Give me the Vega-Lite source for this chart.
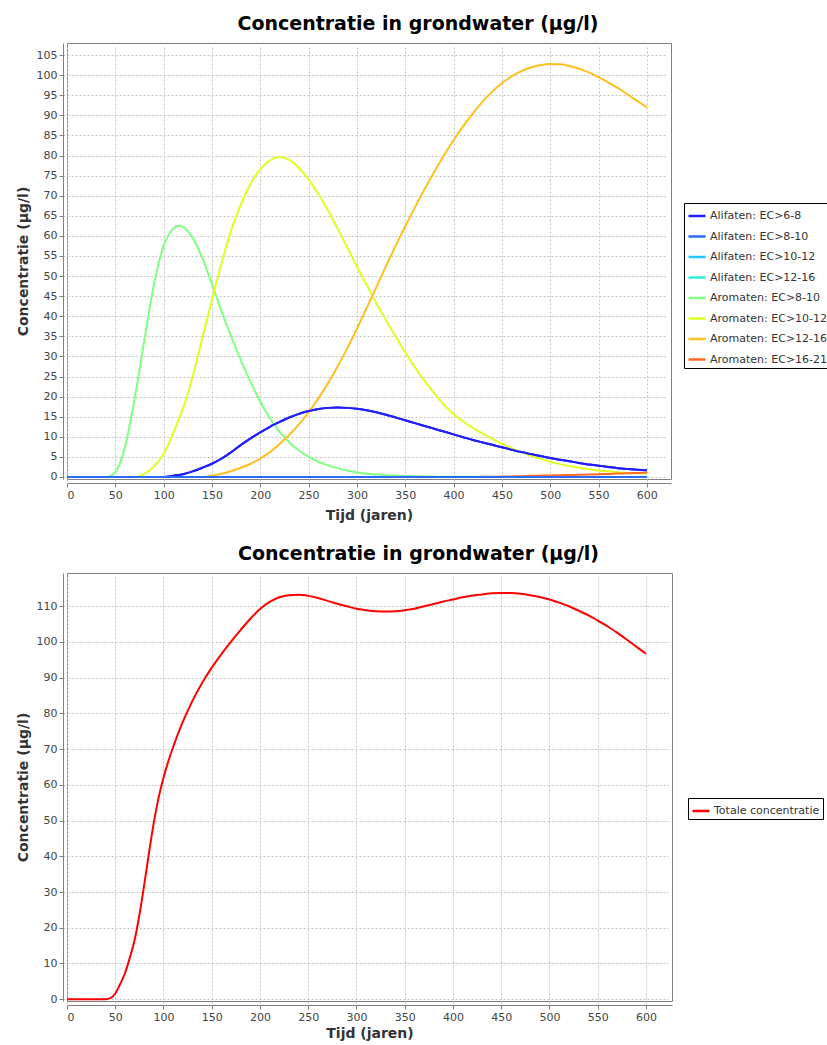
{
  "$schema": "https://vega.github.io/schema/vega-lite/v6.json",
  "background": "white",
  "padding": {"left": 15, "top": 14, "right": 0, "bottom": 0},
  "spacing": 21,
  "config": {
    "font": "DejaVu Sans",
    "view": {"stroke": "#808080", "strokeWidth": 1},
    "axis": {
      "labelFont": "DejaVu Sans", "labelFontSize": 11, "labelColor": "#444444",
      "titleFont": "DejaVu Sans", "titleFontSize": 14, "titleFontWeight": "bold", "titleColor": "#333333",
      "domainColor": "#808080", "tickColor": "#808080", "gridColor": "#c4c4c4", "gridDash": [2, 2],
      "offset": 4, "tickSize": 4, "labelPadding": 2
    },
    "axisY": {"titlePadding": 6},
    "axisX": {"titlePadding": 8},
    "title": {"font": "DejaVu Sans", "fontSize": 19, "fontWeight": "bold", "color": "#000000", "anchor": "middle", "offset": 9, "dx": 49},
    "legend": {
      "strokeColor": "#000000", "padding": 3, "fillColor": "white",
      "symbolType": "stroke", "symbolStrokeWidth": 2.5, "symbolSize": 290,
      "labelFont": "DejaVu Sans", "labelFontSize": 11, "labelColor": "#333333", "labelOffset": 3,
      "rowPadding": 5.5
    }
  },
  "resolve": {"scale": {"color": "independent", "x": "independent", "y": "independent"}, "legend": {"color": "independent"}},
  "vconcat": [
    {
      "title": "Concentratie in grondwater (µg/l)",
      "width": 604,
      "height": 436,
      "data": {"values": [
        {"t": 0, "Alifaten: EC>6-8": 0, "Alifaten: EC>8-10": 0, "Alifaten: EC>10-12": 0, "Alifaten: EC>12-16": 0, "Aromaten: EC>8-10": 0, "Aromaten: EC>10-12": 0, "Aromaten: EC>12-16": 0, "Aromaten: EC>16-21": 0},
        {"t": 10, "Alifaten: EC>6-8": 0, "Alifaten: EC>8-10": 0, "Alifaten: EC>10-12": 0, "Alifaten: EC>12-16": 0, "Aromaten: EC>8-10": 0, "Aromaten: EC>10-12": 0, "Aromaten: EC>12-16": 0, "Aromaten: EC>16-21": 0},
        {"t": 20, "Alifaten: EC>6-8": 0, "Alifaten: EC>8-10": 0, "Alifaten: EC>10-12": 0, "Alifaten: EC>12-16": 0, "Aromaten: EC>8-10": 0, "Aromaten: EC>10-12": 0, "Aromaten: EC>12-16": 0, "Aromaten: EC>16-21": 0},
        {"t": 30, "Alifaten: EC>6-8": 0, "Alifaten: EC>8-10": 0, "Alifaten: EC>10-12": 0, "Alifaten: EC>12-16": 0, "Aromaten: EC>8-10": 0, "Aromaten: EC>10-12": 0, "Aromaten: EC>12-16": 0, "Aromaten: EC>16-21": 0},
        {"t": 40, "Alifaten: EC>6-8": 0, "Alifaten: EC>8-10": 0, "Alifaten: EC>10-12": 0, "Alifaten: EC>12-16": 0, "Aromaten: EC>8-10": 0, "Aromaten: EC>10-12": 0, "Aromaten: EC>12-16": 0, "Aromaten: EC>16-21": 0},
        {"t": 50, "Alifaten: EC>6-8": 0, "Alifaten: EC>8-10": 0, "Alifaten: EC>10-12": 0, "Alifaten: EC>12-16": 0, "Aromaten: EC>8-10": 1.2, "Aromaten: EC>10-12": 0, "Aromaten: EC>12-16": 0, "Aromaten: EC>16-21": 0},
        {"t": 60, "Alifaten: EC>6-8": 0, "Alifaten: EC>8-10": 0, "Alifaten: EC>10-12": 0, "Alifaten: EC>12-16": 0, "Aromaten: EC>8-10": 7.5, "Aromaten: EC>10-12": 0, "Aromaten: EC>12-16": 0, "Aromaten: EC>16-21": 0},
        {"t": 70, "Alifaten: EC>6-8": 0, "Alifaten: EC>8-10": 0, "Alifaten: EC>10-12": 0, "Alifaten: EC>12-16": 0, "Aromaten: EC>8-10": 19.5, "Aromaten: EC>10-12": 0, "Aromaten: EC>12-16": 0, "Aromaten: EC>16-21": 0},
        {"t": 80, "Alifaten: EC>6-8": 0, "Alifaten: EC>8-10": 0, "Alifaten: EC>10-12": 0, "Alifaten: EC>12-16": 0, "Aromaten: EC>8-10": 34, "Aromaten: EC>10-12": 0.8, "Aromaten: EC>12-16": 0, "Aromaten: EC>16-21": 0},
        {"t": 90, "Alifaten: EC>6-8": 0, "Alifaten: EC>8-10": 0, "Alifaten: EC>10-12": 0, "Alifaten: EC>12-16": 0, "Aromaten: EC>8-10": 48, "Aromaten: EC>10-12": 2.6, "Aromaten: EC>12-16": 0, "Aromaten: EC>16-21": 0},
        {"t": 100, "Alifaten: EC>6-8": 0, "Alifaten: EC>8-10": 0, "Alifaten: EC>10-12": 0, "Alifaten: EC>12-16": 0, "Aromaten: EC>8-10": 57.5, "Aromaten: EC>10-12": 5.8, "Aromaten: EC>12-16": 0, "Aromaten: EC>16-21": 0},
        {"t": 110, "Alifaten: EC>6-8": 0.3, "Alifaten: EC>8-10": 0, "Alifaten: EC>10-12": 0, "Alifaten: EC>12-16": 0, "Aromaten: EC>8-10": 61.8, "Aromaten: EC>10-12": 11, "Aromaten: EC>12-16": 0, "Aromaten: EC>16-21": 0},
        {"t": 115, "Alifaten: EC>6-8": 0.5, "Alifaten: EC>8-10": 0, "Alifaten: EC>10-12": 0, "Alifaten: EC>12-16": 0, "Aromaten: EC>8-10": 62.5, "Aromaten: EC>10-12": 14, "Aromaten: EC>12-16": 0, "Aromaten: EC>16-21": 0},
        {"t": 120, "Alifaten: EC>6-8": 0.7, "Alifaten: EC>8-10": 0, "Alifaten: EC>10-12": 0, "Alifaten: EC>12-16": 0, "Aromaten: EC>8-10": 62.2, "Aromaten: EC>10-12": 17, "Aromaten: EC>12-16": 0, "Aromaten: EC>16-21": 0},
        {"t": 130, "Alifaten: EC>6-8": 1.4, "Alifaten: EC>8-10": 0, "Alifaten: EC>10-12": 0, "Alifaten: EC>12-16": 0, "Aromaten: EC>8-10": 59.5, "Aromaten: EC>10-12": 25, "Aromaten: EC>12-16": 0, "Aromaten: EC>16-21": 0},
        {"t": 140, "Alifaten: EC>6-8": 2.3, "Alifaten: EC>8-10": 0, "Alifaten: EC>10-12": 0, "Alifaten: EC>12-16": 0, "Aromaten: EC>8-10": 54.5, "Aromaten: EC>10-12": 34.5, "Aromaten: EC>12-16": 0, "Aromaten: EC>16-21": 0},
        {"t": 150, "Alifaten: EC>6-8": 3.3, "Alifaten: EC>8-10": 0, "Alifaten: EC>10-12": 0, "Alifaten: EC>12-16": 0, "Aromaten: EC>8-10": 48, "Aromaten: EC>10-12": 44, "Aromaten: EC>12-16": 0.3, "Aromaten: EC>16-21": 0},
        {"t": 160, "Alifaten: EC>6-8": 4.6, "Alifaten: EC>8-10": 0, "Alifaten: EC>10-12": 0, "Alifaten: EC>12-16": 0, "Aromaten: EC>8-10": 41.2, "Aromaten: EC>10-12": 53.3, "Aromaten: EC>12-16": 0.8, "Aromaten: EC>16-21": 0},
        {"t": 170, "Alifaten: EC>6-8": 6.2, "Alifaten: EC>8-10": 0, "Alifaten: EC>10-12": 0, "Alifaten: EC>12-16": 0, "Aromaten: EC>8-10": 34.9, "Aromaten: EC>10-12": 61.5, "Aromaten: EC>12-16": 1.5, "Aromaten: EC>16-21": 0},
        {"t": 180, "Alifaten: EC>6-8": 8, "Alifaten: EC>8-10": 0, "Alifaten: EC>10-12": 0, "Alifaten: EC>12-16": 0, "Aromaten: EC>8-10": 29, "Aromaten: EC>10-12": 67.9, "Aromaten: EC>12-16": 2.3, "Aromaten: EC>16-21": 0},
        {"t": 190, "Alifaten: EC>6-8": 9.6, "Alifaten: EC>8-10": 0, "Alifaten: EC>10-12": 0, "Alifaten: EC>12-16": 0, "Aromaten: EC>8-10": 23.6, "Aromaten: EC>10-12": 73, "Aromaten: EC>12-16": 3.3, "Aromaten: EC>16-21": 0},
        {"t": 200, "Alifaten: EC>6-8": 11.1, "Alifaten: EC>8-10": 0, "Alifaten: EC>10-12": 0, "Alifaten: EC>12-16": 0, "Aromaten: EC>8-10": 18.8, "Aromaten: EC>10-12": 76.6, "Aromaten: EC>12-16": 4.6, "Aromaten: EC>16-21": 0},
        {"t": 210, "Alifaten: EC>6-8": 12.5, "Alifaten: EC>8-10": 0, "Alifaten: EC>10-12": 0, "Alifaten: EC>12-16": 0, "Aromaten: EC>8-10": 14.6, "Aromaten: EC>10-12": 78.8, "Aromaten: EC>12-16": 6.2, "Aromaten: EC>16-21": 0},
        {"t": 220, "Alifaten: EC>6-8": 13.7, "Alifaten: EC>8-10": 0, "Alifaten: EC>10-12": 0, "Alifaten: EC>12-16": 0, "Aromaten: EC>8-10": 11.2, "Aromaten: EC>10-12": 79.6, "Aromaten: EC>12-16": 8.2, "Aromaten: EC>16-21": 0},
        {"t": 230, "Alifaten: EC>6-8": 14.8, "Alifaten: EC>8-10": 0, "Alifaten: EC>10-12": 0, "Alifaten: EC>12-16": 0, "Aromaten: EC>8-10": 8.6, "Aromaten: EC>10-12": 78.9, "Aromaten: EC>12-16": 10.5, "Aromaten: EC>16-21": 0},
        {"t": 240, "Alifaten: EC>6-8": 15.7, "Alifaten: EC>8-10": 0, "Alifaten: EC>10-12": 0, "Alifaten: EC>12-16": 0, "Aromaten: EC>8-10": 6.6, "Aromaten: EC>10-12": 76.9, "Aromaten: EC>12-16": 13.1, "Aromaten: EC>16-21": 0},
        {"t": 250, "Alifaten: EC>6-8": 16.4, "Alifaten: EC>8-10": 0, "Alifaten: EC>10-12": 0, "Alifaten: EC>12-16": 0, "Aromaten: EC>8-10": 5, "Aromaten: EC>10-12": 74, "Aromaten: EC>12-16": 16.1, "Aromaten: EC>16-21": 0},
        {"t": 260, "Alifaten: EC>6-8": 16.9, "Alifaten: EC>8-10": 0, "Alifaten: EC>10-12": 0, "Alifaten: EC>12-16": 0, "Aromaten: EC>8-10": 3.8, "Aromaten: EC>10-12": 70.4, "Aromaten: EC>12-16": 19.5, "Aromaten: EC>16-21": 0},
        {"t": 270, "Alifaten: EC>6-8": 17.2, "Alifaten: EC>8-10": 0, "Alifaten: EC>10-12": 0, "Alifaten: EC>12-16": 0, "Aromaten: EC>8-10": 2.9, "Aromaten: EC>10-12": 66.3, "Aromaten: EC>12-16": 23.3, "Aromaten: EC>16-21": 0},
        {"t": 280, "Alifaten: EC>6-8": 17.3, "Alifaten: EC>8-10": 0, "Alifaten: EC>10-12": 0, "Alifaten: EC>12-16": 0, "Aromaten: EC>8-10": 2.2, "Aromaten: EC>10-12": 61.8, "Aromaten: EC>12-16": 27.5, "Aromaten: EC>16-21": 0},
        {"t": 290, "Alifaten: EC>6-8": 17.2, "Alifaten: EC>8-10": 0, "Alifaten: EC>10-12": 0, "Alifaten: EC>12-16": 0, "Aromaten: EC>8-10": 1.6, "Aromaten: EC>10-12": 57.1, "Aromaten: EC>12-16": 32, "Aromaten: EC>16-21": 0},
        {"t": 300, "Alifaten: EC>6-8": 17, "Alifaten: EC>8-10": 0, "Alifaten: EC>10-12": 0, "Alifaten: EC>12-16": 0, "Aromaten: EC>8-10": 1.1, "Aromaten: EC>10-12": 52.4, "Aromaten: EC>12-16": 36.9, "Aromaten: EC>16-21": 0},
        {"t": 310, "Alifaten: EC>6-8": 16.6, "Alifaten: EC>8-10": 0, "Alifaten: EC>10-12": 0, "Alifaten: EC>12-16": 0, "Aromaten: EC>8-10": 0.8, "Aromaten: EC>10-12": 47.8, "Aromaten: EC>12-16": 42, "Aromaten: EC>16-21": 0},
        {"t": 320, "Alifaten: EC>6-8": 16.1, "Alifaten: EC>8-10": 0, "Alifaten: EC>10-12": 0, "Alifaten: EC>12-16": 0, "Aromaten: EC>8-10": 0.6, "Aromaten: EC>10-12": 43.3, "Aromaten: EC>12-16": 47.2, "Aromaten: EC>16-21": 0},
        {"t": 330, "Alifaten: EC>6-8": 15.5, "Alifaten: EC>8-10": 0, "Alifaten: EC>10-12": 0, "Alifaten: EC>12-16": 0, "Aromaten: EC>8-10": 0.45, "Aromaten: EC>10-12": 39, "Aromaten: EC>12-16": 52.4, "Aromaten: EC>16-21": 0},
        {"t": 340, "Alifaten: EC>6-8": 14.8, "Alifaten: EC>8-10": 0, "Alifaten: EC>10-12": 0, "Alifaten: EC>12-16": 0, "Aromaten: EC>8-10": 0.35, "Aromaten: EC>10-12": 34.9, "Aromaten: EC>12-16": 57.5, "Aromaten: EC>16-21": 0},
        {"t": 350, "Alifaten: EC>6-8": 14.1, "Alifaten: EC>8-10": 0, "Alifaten: EC>10-12": 0, "Alifaten: EC>12-16": 0, "Aromaten: EC>8-10": 0.27, "Aromaten: EC>10-12": 31, "Aromaten: EC>12-16": 62.4, "Aromaten: EC>16-21": 0},
        {"t": 360, "Alifaten: EC>6-8": 13.4, "Alifaten: EC>8-10": 0, "Alifaten: EC>10-12": 0, "Alifaten: EC>12-16": 0, "Aromaten: EC>8-10": 0.2, "Aromaten: EC>10-12": 27.3, "Aromaten: EC>12-16": 67.1, "Aromaten: EC>16-21": 0},
        {"t": 370, "Alifaten: EC>6-8": 12.7, "Alifaten: EC>8-10": 0, "Alifaten: EC>10-12": 0, "Alifaten: EC>12-16": 0, "Aromaten: EC>8-10": 0.15, "Aromaten: EC>10-12": 23.9, "Aromaten: EC>12-16": 71.6, "Aromaten: EC>16-21": 0},
        {"t": 380, "Alifaten: EC>6-8": 12, "Alifaten: EC>8-10": 0, "Alifaten: EC>10-12": 0, "Alifaten: EC>12-16": 0, "Aromaten: EC>8-10": 0.1, "Aromaten: EC>10-12": 20.8, "Aromaten: EC>12-16": 75.9, "Aromaten: EC>16-21": 0},
        {"t": 390, "Alifaten: EC>6-8": 11.3, "Alifaten: EC>8-10": 0, "Alifaten: EC>10-12": 0, "Alifaten: EC>12-16": 0, "Aromaten: EC>8-10": 0.08, "Aromaten: EC>10-12": 18, "Aromaten: EC>12-16": 80, "Aromaten: EC>16-21": 0},
        {"t": 400, "Alifaten: EC>6-8": 10.6, "Alifaten: EC>8-10": 0, "Alifaten: EC>10-12": 0, "Alifaten: EC>12-16": 0, "Aromaten: EC>8-10": 0.06, "Aromaten: EC>10-12": 15.6, "Aromaten: EC>12-16": 83.8, "Aromaten: EC>16-21": 0},
        {"t": 410, "Alifaten: EC>6-8": 9.9, "Alifaten: EC>8-10": 0, "Alifaten: EC>10-12": 0, "Alifaten: EC>12-16": 0, "Aromaten: EC>8-10": 0.05, "Aromaten: EC>10-12": 13.8, "Aromaten: EC>12-16": 87.3, "Aromaten: EC>16-21": 0},
        {"t": 420, "Alifaten: EC>6-8": 9.2, "Alifaten: EC>8-10": 0, "Alifaten: EC>10-12": 0, "Alifaten: EC>12-16": 0, "Aromaten: EC>8-10": 0.04, "Aromaten: EC>10-12": 12.2, "Aromaten: EC>12-16": 90.5, "Aromaten: EC>16-21": 0},
        {"t": 430, "Alifaten: EC>6-8": 8.6, "Alifaten: EC>8-10": 0, "Alifaten: EC>10-12": 0, "Alifaten: EC>12-16": 0, "Aromaten: EC>8-10": 0.03, "Aromaten: EC>10-12": 10.8, "Aromaten: EC>12-16": 93.4, "Aromaten: EC>16-21": 0.05},
        {"t": 440, "Alifaten: EC>6-8": 8, "Alifaten: EC>8-10": 0, "Alifaten: EC>10-12": 0, "Alifaten: EC>12-16": 0, "Aromaten: EC>8-10": 0.02, "Aromaten: EC>10-12": 9.5, "Aromaten: EC>12-16": 95.9, "Aromaten: EC>16-21": 0.08},
        {"t": 450, "Alifaten: EC>6-8": 7.4, "Alifaten: EC>8-10": 0, "Alifaten: EC>10-12": 0, "Alifaten: EC>12-16": 0, "Aromaten: EC>8-10": 0, "Aromaten: EC>10-12": 8.3, "Aromaten: EC>12-16": 98, "Aromaten: EC>16-21": 0.1},
        {"t": 460, "Alifaten: EC>6-8": 6.8, "Alifaten: EC>8-10": 0, "Alifaten: EC>10-12": 0, "Alifaten: EC>12-16": 0, "Aromaten: EC>8-10": 0, "Aromaten: EC>10-12": 7.2, "Aromaten: EC>12-16": 99.7, "Aromaten: EC>16-21": 0.15},
        {"t": 470, "Alifaten: EC>6-8": 6.2, "Alifaten: EC>8-10": 0, "Alifaten: EC>10-12": 0, "Alifaten: EC>12-16": 0, "Aromaten: EC>8-10": 0, "Aromaten: EC>10-12": 6.2, "Aromaten: EC>12-16": 101, "Aromaten: EC>16-21": 0.2},
        {"t": 480, "Alifaten: EC>6-8": 5.7, "Alifaten: EC>8-10": 0, "Alifaten: EC>10-12": 0, "Alifaten: EC>12-16": 0, "Aromaten: EC>8-10": 0, "Aromaten: EC>10-12": 5.3, "Aromaten: EC>12-16": 101.9, "Aromaten: EC>16-21": 0.3},
        {"t": 490, "Alifaten: EC>6-8": 5.2, "Alifaten: EC>8-10": 0, "Alifaten: EC>10-12": 0, "Alifaten: EC>12-16": 0, "Aromaten: EC>8-10": 0, "Aromaten: EC>10-12": 4.5, "Aromaten: EC>12-16": 102.5, "Aromaten: EC>16-21": 0.35},
        {"t": 500, "Alifaten: EC>6-8": 4.7, "Alifaten: EC>8-10": 0, "Alifaten: EC>10-12": 0, "Alifaten: EC>12-16": 0, "Aromaten: EC>8-10": 0, "Aromaten: EC>10-12": 3.8, "Aromaten: EC>12-16": 102.8, "Aromaten: EC>16-21": 0.4},
        {"t": 510, "Alifaten: EC>6-8": 4.3, "Alifaten: EC>8-10": 0, "Alifaten: EC>10-12": 0, "Alifaten: EC>12-16": 0, "Aromaten: EC>8-10": 0, "Aromaten: EC>10-12": 3.2, "Aromaten: EC>12-16": 102.7, "Aromaten: EC>16-21": 0.45},
        {"t": 520, "Alifaten: EC>6-8": 3.9, "Alifaten: EC>8-10": 0, "Alifaten: EC>10-12": 0, "Alifaten: EC>12-16": 0, "Aromaten: EC>8-10": 0, "Aromaten: EC>10-12": 2.7, "Aromaten: EC>12-16": 102.3, "Aromaten: EC>16-21": 0.5},
        {"t": 530, "Alifaten: EC>6-8": 3.5, "Alifaten: EC>8-10": 0, "Alifaten: EC>10-12": 0, "Alifaten: EC>12-16": 0, "Aromaten: EC>8-10": 0, "Aromaten: EC>10-12": 2.3, "Aromaten: EC>12-16": 101.6, "Aromaten: EC>16-21": 0.55},
        {"t": 540, "Alifaten: EC>6-8": 3.1, "Alifaten: EC>8-10": 0, "Alifaten: EC>10-12": 0, "Alifaten: EC>12-16": 0, "Aromaten: EC>8-10": 0, "Aromaten: EC>10-12": 1.9, "Aromaten: EC>12-16": 100.7, "Aromaten: EC>16-21": 0.6},
        {"t": 550, "Alifaten: EC>6-8": 2.8, "Alifaten: EC>8-10": 0, "Alifaten: EC>10-12": 0, "Alifaten: EC>12-16": 0, "Aromaten: EC>8-10": 0, "Aromaten: EC>10-12": 1.6, "Aromaten: EC>12-16": 99.5, "Aromaten: EC>16-21": 0.7},
        {"t": 560, "Alifaten: EC>6-8": 2.5, "Alifaten: EC>8-10": 0, "Alifaten: EC>10-12": 0, "Alifaten: EC>12-16": 0, "Aromaten: EC>8-10": 0, "Aromaten: EC>10-12": 1.4, "Aromaten: EC>12-16": 98.2, "Aromaten: EC>16-21": 0.75},
        {"t": 570, "Alifaten: EC>6-8": 2.2, "Alifaten: EC>8-10": 0, "Alifaten: EC>10-12": 0, "Alifaten: EC>12-16": 0, "Aromaten: EC>8-10": 0, "Aromaten: EC>10-12": 1.2, "Aromaten: EC>12-16": 96.8, "Aromaten: EC>16-21": 0.85},
        {"t": 580, "Alifaten: EC>6-8": 2, "Alifaten: EC>8-10": 0, "Alifaten: EC>10-12": 0, "Alifaten: EC>12-16": 0, "Aromaten: EC>8-10": 0, "Aromaten: EC>10-12": 1, "Aromaten: EC>12-16": 95.2, "Aromaten: EC>16-21": 0.9},
        {"t": 590, "Alifaten: EC>6-8": 1.8, "Alifaten: EC>8-10": 0, "Alifaten: EC>10-12": 0, "Alifaten: EC>12-16": 0, "Aromaten: EC>8-10": 0, "Aromaten: EC>10-12": 0.9, "Aromaten: EC>12-16": 93.6, "Aromaten: EC>16-21": 1},
        {"t": 600, "Alifaten: EC>6-8": 1.7, "Alifaten: EC>8-10": 0, "Alifaten: EC>10-12": 0, "Alifaten: EC>12-16": 0, "Aromaten: EC>8-10": 0, "Aromaten: EC>10-12": 0.8, "Aromaten: EC>12-16": 92, "Aromaten: EC>16-21": 1.1}
      ]},
      "transform": [
        {"fold": ["Alifaten: EC>6-8", "Alifaten: EC>8-10", "Alifaten: EC>10-12", "Alifaten: EC>12-16", "Aromaten: EC>8-10", "Aromaten: EC>10-12", "Aromaten: EC>12-16", "Aromaten: EC>16-21"], "as": ["serie", "waarde"]}
      ],
      "encoding": {
        "x": {"field": "t", "type": "quantitative", "scale": {"domain": [0, 625], "nice": false, "zero": false},
          "axis": {"values": [0, 50, 100, 150, 200, 250, 300, 350, 400, 450, 500, 550, 600], "title": "Tijd (jaren)"}},
        "y": {"field": "waarde", "type": "quantitative", "scale": {"domain": [-0.5, 108], "nice": false, "zero": false},
          "axis": {"values": [0, 5, 10, 15, 20, 25, 30, 35, 40, 45, 50, 55, 60, 65, 70, 75, 80, 85, 90, 95, 100, 105], "title": "Concentratie (µg/l)"}},
        "color": {"field": "serie", "type": "nominal",
          "scale": {"domain": ["Alifaten: EC>6-8", "Alifaten: EC>8-10", "Alifaten: EC>10-12", "Alifaten: EC>12-16", "Aromaten: EC>8-10", "Aromaten: EC>10-12", "Aromaten: EC>12-16", "Aromaten: EC>16-21"],
            "range": ["#1f1fff", "#2a6bff", "#1fc8ff", "#2ff0e0", "#80ff80", "#e0ff1f", "#ffc01f", "#ff6a20"]},
          "legend": {"title": null, "orient": "none", "legendX": 617, "legendY": 160}}
      },
      "layer": [
        {"mark": {"type": "line", "strokeWidth": 2, "interpolate": "monotone", "clip": true}},
        {"transform": [{"filter": {"field": "serie", "oneOf": ["Alifaten: EC>6-8", "Alifaten: EC>8-10"]}}],
         "mark": {"type": "line", "strokeWidth": 2, "interpolate": "monotone", "clip": true}}
      ]
    },
    {
      "title": "Concentratie in grondwater (µg/l)",
      "width": 605,
      "height": 428,
      "data": {"values": [
        {"serie": "Totale concentratie", "t": 0, "waarde": 0},
        {"serie": "Totale concentratie", "t": 10, "waarde": 0},
        {"serie": "Totale concentratie", "t": 20, "waarde": 0},
        {"serie": "Totale concentratie", "t": 30, "waarde": 0},
        {"serie": "Totale concentratie", "t": 40, "waarde": 0},
        {"serie": "Totale concentratie", "t": 45, "waarde": 0.3},
        {"serie": "Totale concentratie", "t": 50, "waarde": 1.6},
        {"serie": "Totale concentratie", "t": 55, "waarde": 4.2},
        {"serie": "Totale concentratie", "t": 60, "waarde": 7.2},
        {"serie": "Totale concentratie", "t": 65, "waarde": 11.5},
        {"serie": "Totale concentratie", "t": 70, "waarde": 16.5},
        {"serie": "Totale concentratie", "t": 75, "waarde": 23.5},
        {"serie": "Totale concentratie", "t": 80, "waarde": 32},
        {"serie": "Totale concentratie", "t": 85, "waarde": 41},
        {"serie": "Totale concentratie", "t": 90, "waarde": 49.5},
        {"serie": "Totale concentratie", "t": 95, "waarde": 56.5},
        {"serie": "Totale concentratie", "t": 100, "waarde": 62},
        {"serie": "Totale concentratie", "t": 105, "waarde": 66.6},
        {"serie": "Totale concentratie", "t": 110, "waarde": 70.6},
        {"serie": "Totale concentratie", "t": 120, "waarde": 77.6},
        {"serie": "Totale concentratie", "t": 130, "waarde": 83.5},
        {"serie": "Totale concentratie", "t": 140, "waarde": 88.5},
        {"serie": "Totale concentratie", "t": 150, "waarde": 92.8},
        {"serie": "Totale concentratie", "t": 160, "waarde": 96.6},
        {"serie": "Totale concentratie", "t": 170, "waarde": 100.1},
        {"serie": "Totale concentratie", "t": 180, "waarde": 103.4},
        {"serie": "Totale concentratie", "t": 190, "waarde": 106.5},
        {"serie": "Totale concentratie", "t": 200, "waarde": 109.2},
        {"serie": "Totale concentratie", "t": 210, "waarde": 111.2},
        {"serie": "Totale concentratie", "t": 220, "waarde": 112.5},
        {"serie": "Totale concentratie", "t": 230, "waarde": 113.1},
        {"serie": "Totale concentratie", "t": 240, "waarde": 113.2},
        {"serie": "Totale concentratie", "t": 250, "waarde": 112.9},
        {"serie": "Totale concentratie", "t": 260, "waarde": 112.3},
        {"serie": "Totale concentratie", "t": 270, "waarde": 111.5},
        {"serie": "Totale concentratie", "t": 280, "waarde": 110.7},
        {"serie": "Totale concentratie", "t": 290, "waarde": 110},
        {"serie": "Totale concentratie", "t": 300, "waarde": 109.3},
        {"serie": "Totale concentratie", "t": 310, "waarde": 108.9},
        {"serie": "Totale concentratie", "t": 320, "waarde": 108.6},
        {"serie": "Totale concentratie", "t": 330, "waarde": 108.5},
        {"serie": "Totale concentratie", "t": 340, "waarde": 108.6},
        {"serie": "Totale concentratie", "t": 350, "waarde": 108.9},
        {"serie": "Totale concentratie", "t": 360, "waarde": 109.3},
        {"serie": "Totale concentratie", "t": 370, "waarde": 110},
        {"serie": "Totale concentratie", "t": 380, "waarde": 110.6},
        {"serie": "Totale concentratie", "t": 390, "waarde": 111.3},
        {"serie": "Totale concentratie", "t": 400, "waarde": 111.9},
        {"serie": "Totale concentratie", "t": 410, "waarde": 112.5},
        {"serie": "Totale concentratie", "t": 420, "waarde": 113},
        {"serie": "Totale concentratie", "t": 430, "waarde": 113.3},
        {"serie": "Totale concentratie", "t": 440, "waarde": 113.6},
        {"serie": "Totale concentratie", "t": 450, "waarde": 113.7},
        {"serie": "Totale concentratie", "t": 460, "waarde": 113.7},
        {"serie": "Totale concentratie", "t": 470, "waarde": 113.5},
        {"serie": "Totale concentratie", "t": 480, "waarde": 113.1},
        {"serie": "Totale concentratie", "t": 490, "waarde": 112.6},
        {"serie": "Totale concentratie", "t": 500, "waarde": 111.9},
        {"serie": "Totale concentratie", "t": 510, "waarde": 111},
        {"serie": "Totale concentratie", "t": 520, "waarde": 110},
        {"serie": "Totale concentratie", "t": 530, "waarde": 108.8},
        {"serie": "Totale concentratie", "t": 540, "waarde": 107.5},
        {"serie": "Totale concentratie", "t": 550, "waarde": 106},
        {"serie": "Totale concentratie", "t": 560, "waarde": 104.4},
        {"serie": "Totale concentratie", "t": 570, "waarde": 102.6},
        {"serie": "Totale concentratie", "t": 580, "waarde": 100.7},
        {"serie": "Totale concentratie", "t": 590, "waarde": 98.7},
        {"serie": "Totale concentratie", "t": 600, "waarde": 96.7}
      ]},
      "mark": {"type": "line", "strokeWidth": 2, "interpolate": "monotone", "clip": true},
      "encoding": {
        "x": {"field": "t", "type": "quantitative", "scale": {"domain": [0, 627], "nice": false, "zero": false},
          "axis": {"values": [0, 50, 100, 150, 200, 250, 300, 350, 400, 450, 500, 550, 600], "title": "Tijd (jaren)", "titlePadding": 4}},
        "y": {"field": "waarde", "type": "quantitative", "scale": {"domain": [-0.5, 119.3], "nice": false, "zero": false},
          "axis": {"values": [0, 10, 20, 30, 40, 50, 60, 70, 80, 90, 100, 110], "title": "Concentratie (µg/l)"}},
        "color": {"field": "serie", "type": "nominal",
          "scale": {"domain": ["Totale concentratie"], "range": ["#ff0000"]},
          "legend": {"title": null, "orient": "none", "legendX": 621, "legendY": 225}}
      }
    }
  ]
}
